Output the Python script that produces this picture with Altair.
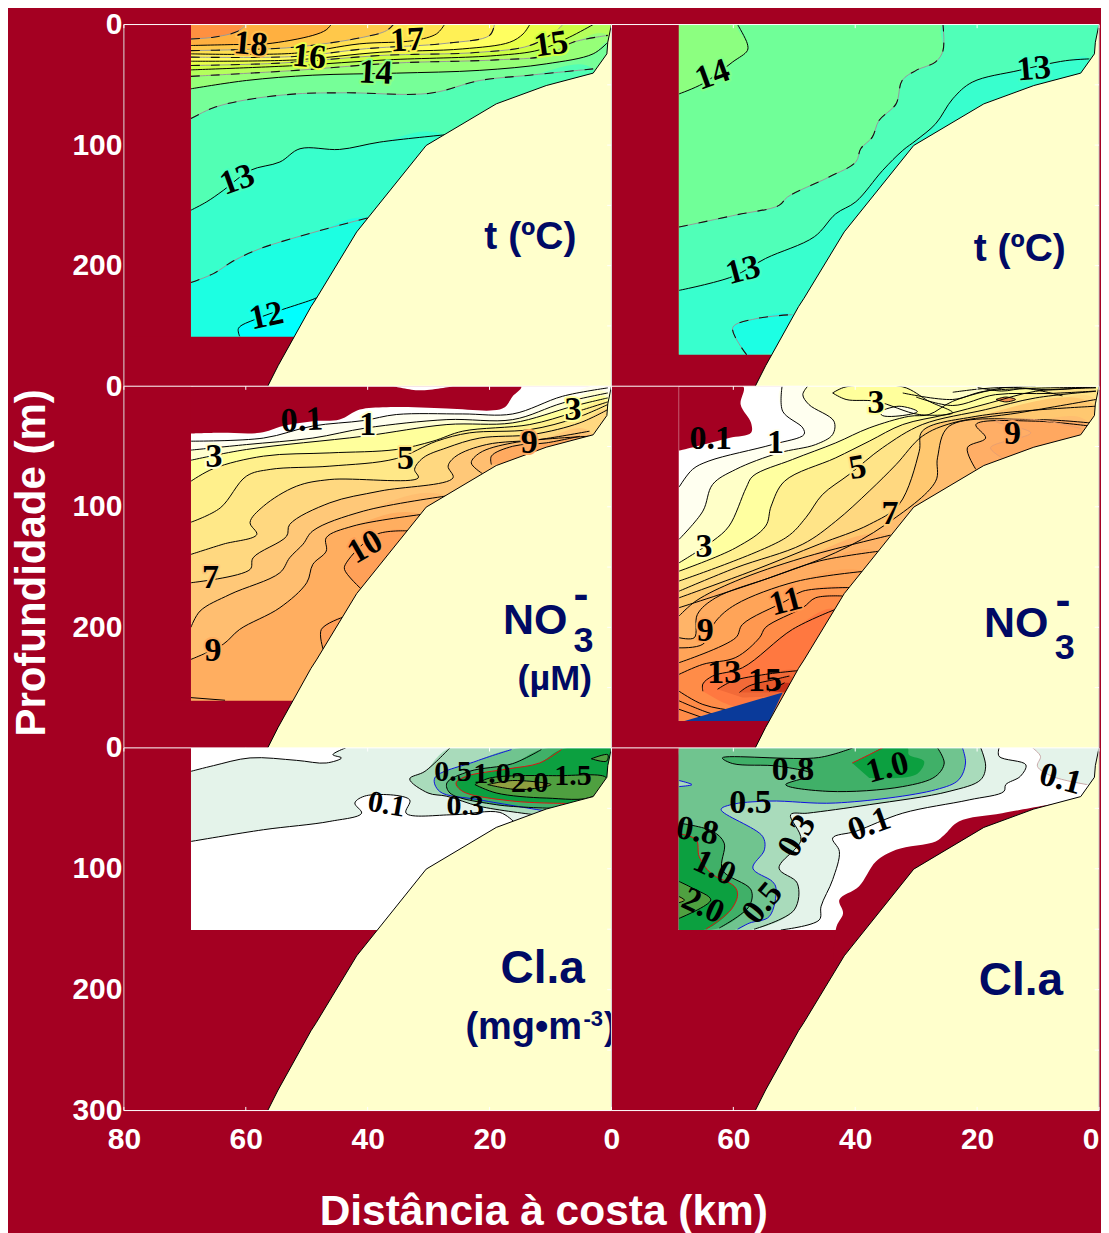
import altair as alt

BG = "#A40022"
CREAM = "#FFFFCC"
NAVY = "#000A64"
PALE, G3, G5, G8, G10, G15, G20 = "#E4F3EA", "#A9DBBB", "#70C48F", "#40B068", "#0CA040", "#4FA040", "#8FA040"

KM_TICKS = [80, 60, 40, 20, 0]
DEPTH_TICKS = [0, 100, 200, 300]
TERRAIN = [(0, 0), (0.6, 14.7), (0.75, 24.3), (3, 40.3), (10.7, 50.6), (18.9, 65.8), (30.4, 100.3),
           (41.8, 172), (48.4, 227), (49.3, 234), (54.7, 283), (56.4, 300)]

# contour tuple: fill, line style, points, extra fill-only points
T_LEFT = [
    ("#FFB040", "dash", [(69, 12), (65.3, 10.5), (61.5, 6), (59.9, 0)], None),
    ("#FFC84A", "k", [(69, 17.4), (62, 16.6), (56.6, 16), (49, 9), (46.8, 4.4), (46, 0)], None),
    ("#FFE050", "dash", [(69, 21.6), (62.6, 21), (52, 18.8), (40.7, 10.5), (36.9, 5), (35.8, 0)], None),
    ("#FFF055", "k", [(69, 24.3), (52, 23.8), (41.3, 16), (32.5, 13.3), (28.7, 7.7), (27.4, 0)], None),
    ("#FFFF60", "dash", [(69, 27), (52, 26.5), (40.2, 20), (27, 15.5), (20, 9), (19.2, 0)], None),
    ("#E8FF48", "k", [(69, 30.4), (51.7, 29.3), (38, 23), (24.4, 20.2), (16.7, 14.7), (14.5, 7.8), (13.4, 0)], None),
    ("#CCFF44", "dash", [(69, 34), (54.4, 32), (38, 25.7), (21.6, 23), (13.4, 17.4), (9, 5), (8, 0)], None),
    ("#B4FF5C", "k", [(69, 37.6), (51.7, 34), (36.9, 29.3), (18.9, 25.7), (11.8, 21), (6.9, 10.5), (3, 0)], None),
    ("#96FF78", "dash", [(69, 43), (51.7, 38), (35.8, 32), (18.9, 29.3), (10.7, 25.7), (6.3, 14.7), (0.6, 9)], None),
    ("#76FF98", "k", [(69, 53.3), (59.9, 46.4), (49, 42), (35.3, 40.3), (21.6, 38), (10.7, 32.6), (3, 24.3), (0.6, 14.7)], None),
    ("#52FFB4", "dash", [(69, 78), (65.3, 69), (59.9, 62.4), (51.7, 57.5), (43.5, 56.6), (29.8, 57), (21.6, 46.4), (13.4, 42), (3, 36.8)], None),
    ("#38FFCC", "k", [(69, 154), (66.4, 147), (63.7, 137.6), (59.3, 121), (54.4, 114), (51.1, 103), (44.6, 103.6), (38, 97.5), (27.4, 91.5)], None),
    ("#1CFFE2", "dash", [(69, 214), (65.3, 206.6), (62, 196), (57.7, 186), (47.9, 171), (39.7, 160)], None),
    ("#00FFFF", "k", [(61, 258.6), (61.2, 252), (58.2, 244), (49, 228), (48.1, 226)], [(46, 262)]),
]
T_RIGHT = [
    ("#70FF98", "k", [(68.9, 57.5), (65, 49), (60.1, 31), (57.7, 21.6), (57.7, 16), (59.3, 0)], None),
    ("#50FFB8", "dash", [(68.9, 168), (59.6, 158), (52.5, 150), (51.1, 143), (44.3, 126.5), (39.9, 114), (39.1, 103), (37.2, 93.4),
                         (36.1, 79.6), (33.3, 65.8), (32.3, 46.4), (30, 38), (26.8, 31), (25.6, 21.6), (25.6, 0)], None),
    ("#38FFCE", "k", [(68.9, 220.5), (60.1, 209), (54.7, 194), (46.7, 176), (43.2, 157), (39.9, 147), (35.5, 121), (32.2, 104.4), (30, 96),
                      (26.8, 82.3), (24, 61.6), (20.8, 47.8), (13.1, 38), (5.5, 30), (1.6, 28.5)], None),
    ("#1CFFE4", "dash", [(57.8, 274), (60.1, 251.4), (56.3, 244), (50.3, 240.6)], [(46, 270)]),
]
N_LEFT = [
    ("#FFFFF0", "k", [(69, 45.6), (57.1, 43), (49, 33), (40.7, 28.5), (35.3, 23.5), (24.4, 23), (16.2, 23), (8, 8.3), (0.6, 1.4)], None),
    ("#FFFFD0", "k", [(69, 53), (59.9, 48.4), (49, 43), (40.2, 34.6), (27, 27.7), (16.2, 27.7), (8, 13.9), (0.6, 5.6)], None),
    ("#FFFF9C", "k", [(69, 61.4), (59.9, 52.5), (40.7, 41.5), (27, 31.8), (16.2, 30.4), (6.3, 16.6), (0.6, 9.7)], None),
    ("#FFF08C", "k", [(69, 78.8), (65.3, 68.3), (57.1, 58), (46.2, 55.3), (35.3, 52.5), (29.3, 45.6), (24.4, 37.3), (13.4, 31.8), (6.3, 22), (0.6, 13)], None),
    ("#FFE888", "k", [(69, 112.8), (64.2, 101), (59.9, 74.6), (56, 69), (46.2, 66.3), (35.3, 60), (28.7, 45.6), (23.3, 38.7), (13.4, 36), (5.8, 26.3), (0.6, 15.2)], None),
    ("#FFD880", "k", [(69, 139.5), (63.7, 131), (58.2, 123), (59.3, 113), (57.1, 99.5), (51.7, 83), (46.2, 77.4), (31.7, 76), (32.3, 69),
                      (30.9, 59.4), (27, 51), (21.6, 43), (12.9, 40), (5.2, 30.4), (0.6, 19.4)], None),
    ("#FFC878", "k", [(69, 163), (59.3, 152), (58.8, 142.3), (53.3, 124.4), (52.8, 114.7), (46.2, 96.7), (38, 87), (26, 76), (26.8, 66.3),
                      (25.5, 58), (20.5, 48.4), (11.8, 44.2), (3.6, 37.3)], None),
    ("#FFBE70", "k", [(69, 200), (67.5, 186.5), (62.6, 172.7), (54.4, 154.7), (52.8, 142.3), (50.6, 131), (49, 120), (40.7, 103.6), (27, 91)], None),
    ("#FFBE70", "k", [(21.2, 72.4), (23, 63.6), (21.6, 55.3), (16.2, 47), (3.6, 41.5)], [(10, 60)]),
    ("#FFAE60", "k", [(69, 226.6), (63.7, 214), (61, 201.7), (54.4, 183.7), (50, 163), (49, 147.8), (46.8, 136.8), (46.8, 125.7), (42.4, 116), (31.2, 106.4)], None),
    ("#FFAA60", "k", [(19.7, 65), (19.7, 58), (16.2, 49.8), (10.7, 47), (5.2, 41.5)], [(10, 60)]),
    ("#FFA058", "k", [(41, 168.5), (43.8, 152), (43.5, 146.5), (38.6, 123), (33.4, 120)], [(30, 140)]),
    ("#FFA058", "k", [(47.3, 218.3), (47.6, 201.7), (44, 191.5)], [(40, 210)]),
    (None, "k", [(69, 258.3), (63.4, 260.5)], None),
]
N_LEFT_MASK = [[(69, 39.3), (64.2, 38.7), (57.7, 38.7), (53.9, 33), (49, 29), (44.6, 27.7), (41.3, 19.4), (36.9, 17.4), (27, 18.5),
                (19.4, 20), (17.5, 17.4), (16.2, 8.3), (14.8, 0), (69, 0)]]
N_LEFT_SLIVER = [(35.8, 0), (31.5, 3.4), (26, 0)]
N_RIGHT = [
    ("#FFFFF0", "k", [(68.9, 83.7), (66.7, 69), (64, 62), (53.6, 48.4), (48.4, 40), (48.6, 34.6), (51.9, 20.8), (52, 0)], None),
    ("#FFFFC8", "k", [(68.9, 127), (65, 103.6), (63.4, 81.5), (59.6, 69), (52.5, 55.3), (46.5, 48.4), (43.7, 40), (43.5, 29), (47.6, 15.2), (48.6, 7), (47.8, 0)], None),
    ("#FFFFA0", "k", [(68.9, 146.5), (63.4, 128.5), (60.7, 116), (57.9, 84.3), (56.8, 74.6), (50.3, 60.8), (43.2, 47), (37.7, 34.6), (31.2, 25),
                      (27.9, 23.5), (24, 12.5), (15.8, 1.4), (10.4, 0)], None),
    ("#FFF090", "k", [(68.9, 153.4), (59.6, 134), (54.7, 116), (53.8, 99.5), (51.6, 78.8), (43.2, 59.4), (37.7, 45.6), (32.2, 31.8), (25.1, 23.5),
                      (18, 14), (10.4, 4.2), (0.5, 1.4)], None),
    ("#FFE488", "k", [(68.9, 161.6), (51.4, 125.7), (48.1, 109), (45.4, 90), (41, 73.2), (35.5, 51), (29, 31.8), (18.6, 19.4), (10.4, 9.7), (0.5, 4.2)], None),
    ("#FFD880", "k", [(68.9, 170), (59.6, 150.6), (48.6, 131), (43.2, 112), (37.7, 87), (33.3, 65), (29, 41.5), (24, 30.4), (13.1, 22), (0.5, 11)], None),
    ("#FFC870", "k", [(68.9, 175.5), (56.8, 153), (45.9, 131), (37.7, 114.7), (32.8, 98), (29.5, 54), (29, 37.3), (20.2, 25), (0.5, 16.6)], None),
    ("#FFBE70", "k", [(68.9, 183.7), (54.1, 159), (43.2, 138), (35, 114.7), (26.8, 78.8), (26.5, 59.4), (24.6, 33.2), (10.4, 27.7), (1.6, 30.4)], None),
    ("#FFAE66", "k", [(20.2, 69), (21.6, 51), (18.6, 43), (20.2, 31.8), (10.4, 29), (1.6, 33)], [(0, 60), (10, 60)]),
    ("#FFA860", "#E8A070", [(15.9, 59.4), (17.8, 51), (11.2, 38.7), (17, 29), (10.4, 27.7), (3, 35)], [(3, 55), (12, 55)]),
    ("#FFFF9C", "k", [(43.7, 5.6), (41.5, 0.5), (32.2, 0.5), (27.9, 12.5), (24, 22), (29.5, 23.5), (36.6, 12.5), (41.5, 11), (43.7, 5.6)], []),
    ("#FFFFE8", "k", [(36.1, 21), (32.8, 16.6), (29.8, 21), (31.2, 23.5), (35.5, 24.4), (36.1, 21)], []),
    (None, "k", [(32.2, 5.6), (24, 11), (18.6, 4), (0.5, 1)], None),
    (None, "k", [(30, 9), (24, 16), (17, 7), (8, 6), (0.5, 4)], None),
    (None, "k", [(24, 5), (19, 2), (14, 1), (8, 3), (2, 1)], None),
    (None, "k", [(20, 1), (16, 4), (12, 2), (6, 8)], None),
    ("#F09050", "k", [(16.9, 11), (15.3, 9), (13.7, 11), (15.3, 13), (16.9, 11)], []),
    ("#FFB468", "k", [(68.9, 190.6), (66.1, 178), (59.6, 161.6), (48.6, 142.3), (34.2, 123.5)], None),
    ("#FFAC60", "k", [(68.9, 208.6), (66.4, 208.6), (65.9, 189.3), (62.9, 175.5), (54.1, 159), (45.9, 145), (36, 136.8)], None),
    ("#FFA458", "k", [(68.9, 217), (65, 214), (62.9, 195), (59.6, 181), (49.7, 162), (38.3, 153.4)], None),
    ("#FF9850", "k", [(68.9, 229.3), (59.6, 208.6), (58.5, 197.6), (51.4, 178.2), (48.6, 170), (40.7, 167)], None),
    ("#FF8C48", "k", [(68.9, 239), (65, 230.7), (59.6, 225), (55.7, 208.6), (54.7, 200), (48.6, 183.7), (46.5, 175.5), (42.1, 174)], None),
    ("#FF7840", "k", [(65, 253), (65, 247), (63.4, 240.4), (58.5, 233.5), (50.3, 201.7), (43.2, 185)], [(40, 240), (54.1, 272), (62.3, 261)]),
    ("#F26A38", "k", [(62.6, 251.4), (60.1, 244.5), (54.7, 239), (49.5, 236)], [(46, 256), (51.9, 257), (58.5, 258.3)]),
    ("#E85A2C", "k", [(59, 254), (57.4, 248.6), (53, 243), (50.8, 240.4)], [(47, 256), (51.6, 254)]),
    ("#C83018", "k", [(54.1, 253), (51.6, 246)], [(48, 250), (51, 254)]),
    (None, "k", [(68.9, 253), (65, 264), (59, 270), (54, 274)], None),
    (None, "k", [(68.9, 261), (64, 271), (60, 276)], None),
    (None, "k", [(68.9, 268), (65, 275)], None),
]
N_RIGHT_MASK = [[(68.9, 53.4), (66.1, 50), (60.7, 43), (57.1, 38.7), (57.1, 30.4), (58.8, 15.2), (58.4, 0), (68.9, 0)]]
N_RIGHT_BLUE = [(68, 277.7), (51.9, 254), (54.1, 277.7)]
C_LEFT = [
    (PALE, "k", [(69, 19.4), (65.3, 14.7), (59.3, 8.3), (51.7, 10.3), (46.8, 12.5), (44.3, 8.3), (45.7, 5.6), (43.6, 0)], None),
    ("#FFFFFF", "k", [(69, 77.4), (57.1, 67.7), (46.2, 60.8), (41, 54), (42.1, 45.6), (40.2, 39.5), (33.1, 43), (33.7, 54), (26, 55.3), (18.3, 53.4), (15.9, 61.6)], None),
    (G3, "k", [(12.6, 55.3), (21.6, 48.4), (27, 40), (30.1, 37.3), (33.1, 25.7), (30.6, 19.4), (26.5, 0)], [(0, 0), (8, 60)]),
    (G5, "#1010E0", [(10.4, 52.5), (21.6, 43), (28.2, 36), (29, 25), (22.2, 11), (16.4, 1.4)], [(0, 0), (5, 50)]),
    (G8, "k", [(9, 50), (18.9, 47), (26.5, 37.3), (27, 29), (23.3, 19.4), (16.2, 13), (11.5, 1.4)], [(0, 0), (4, 48)]),
    (G10, "#E01010", [(6.6, 46), (16.2, 44), (24.4, 36), (25.5, 29), (23.8, 23.5), (17, 17.4), (11.8, 12.5), (8.2, 1.4)], [(0, 0), (2, 45)]),
    (G15, "k", [(22.4, 30.4), (20, 25), (9, 23), (0.8, 25), (3, 40), (10.7, 41.5), (18.9, 37.3), (22.4, 30.4)], []),
    (G20, "k", [(20.3, 30.4), (16.2, 27), (9.9, 30.4), (15, 34.6), (20.3, 30.4)], []),
    (G15, "k", [(3.3, 9), (0.6, 5.6), (0.8, 11), (3.3, 9)], []),
]
C_RIGHT = [
    (PALE, "k", [(16.4, 0), (16.4, 7), (12, 14), (12.9, 23.5), (15.3, 30.4), (15.6, 36), (21.3, 43), (32.2, 54), (39.9, 69), (43.7, 74.6),
                 (42.6, 85.7), (43.7, 109), (45.6, 131), (45.9, 142.3), (52.2, 150.6)], [(68.9, 150.6), (68.9, 0)]),
    (PALE, "#C8A8A8", [(10.9, 0), (9.6, 7), (10.1, 15.2), (7.7, 23.5), (1.9, 30.4)], [(0, 30), (0, 0)]),
    (G3, "k", [(19.4, 0), (18.6, 15.2), (19.4, 26.3), (24.6, 36), (37.7, 47), (47.8, 54), (50.6, 55.3), (48.9, 76), (52.5, 99.5), (49.5, 112),
               (50, 134), (56.6, 150)], [(68.9, 150.6), (68.9, 0)]),
    (G5, "#1010E0", [(22.4, 0), (21.9, 12.5), (23, 26.3), (26.8, 34.6), (43.2, 45.6), (54.1, 44), (60.4, 47), (62, 51), (55.2, 73.2), (54.9, 84.3),
                     (56.8, 99.5), (53.6, 110.5), (53, 116), (54.1, 139.5), (57.4, 145), (59.3, 150)], [(68.9, 150.6), (68.9, 0)]),
    (G3, "#1010E0", [(68.9, 27), (66.8, 30.4), (68.9, 32)], []),
    (G8, "k", [(40.4, 0), (46, 8), (61.8, 8.3), (60.1, 13), (52.5, 15.2), (47, 22), (51.4, 30.4), (44.3, 36), (32.2, 32), (26.8, 23.5), (25.4, 12.5), (26.5, 0)], []),
    (G10, "#E01010", [(40.5, 12.5), (37.7, 5.6), (35.5, 0)], [(31.4, 0), (31.2, 5.6), (28.7, 11), (30, 22), (37.7, 25)]),
    (G8, "k", [(68.9, 62.2), (63.4, 69), (61.5, 78.8), (61.8, 101), (57.1, 117.4), (57.4, 131), (62.3, 149)], [(68.9, 150.6)]),
    (G10, "#E01010", [(68.9, 71), (66.1, 76), (65.6, 90), (63.7, 103.6), (59.8, 114.7), (59.3, 121.6), (60.4, 134), (64.5, 150)], [(68.9, 150.6)]),
    (G15, "k", [(68.9, 110.5), (66.7, 116), (63.7, 125.7), (68.9, 141)], []),
    (G20, "k", [(68.9, 123), (68, 126), (68.9, 128)], []),
]
C_RIGHT_MASK = [[(6.6, 45.6), (15.9, 54), (23, 60.8), (25.4, 72), (26.8, 77.4), (33.3, 84.3), (36.6, 94), (39.4, 114.7), (42.6, 125.7), (42, 136.8),
                 (43.2, 150.6), (40, 300), (0, 100)]]

# label: text, km, depth, angle, halo colour
L_T_LEFT = [("18", 59.2, 16.6, 5, "#FFC050"), ("16", 49.6, 27, 5, "#E8FF48"), ("17", 33.5, 13.3, -3, "#FFF055"), ("14", 38.7, 40.3, 3, "#8CFF80"),
            ("15", 9.9, 16.6, -8, "#CCFF44"), ("13", 61.4, 129, -20, "#46FFC0"), ("12", 56.6, 242, -12, "#0CFFF0")]
L_T_RIGHT = [("14", 63.4, 42, -20, "#80FF88"), ("13", 58.4, 204, -15, "#44FFC4"), ("13", 10.7, 37, -5, "#44FFC4")]
L_N_LEFT = [("0.1", 50.8, 28.5, -3, None), ("1", 40, 32, 0, "#FFFFD0"), ("3", 65.2, 59, 0, "#FFFFD0"), ("5", 33.8, 60, 0, "#FFE888"), ("3", 6.3, 20, 0, "#FFFF9C"),
            ("9", 13.5, 47, 0, "#FFAA60"), ("10", 40.4, 133.5, -30, "#FFA058"), ("7", 65.8, 159, 0, "#FFC878"), ("9", 65.4, 220, 0, "#FFAE60")]
L_N_RIGHT = [("0.1", 63.7, 44, 0, None), ("1", 53.1, 47, 0, "#FFFFF0"), ("3", 36.6, 14, 0, "#FFFF9C"), ("5", 39.6, 67.7, -10, "#FFE488"), ("3", 64.8, 133, 0, "#FFFFC8"),
             ("7", 34.3, 106, 0, "#FFC870"), ("9", 14.2, 40, 0, "#FFA860"), ("11", 51.4, 179, -15, "#FF9850"), ("9", 64.6, 203, 0, "#FFA458"), ("13", 61.5, 238, 0, None),
             ("15", 54.8, 244.5, 0, None)]
L_C_LEFT = [("0.5", 26, 20, 0, None), ("1.0", 19.6, 22, 0, None), ("2.0", 13.4, 29, 0, None), ("1.5", 6.3, 23.5, 0, None), ("0.1", 36.9, 47, 10, None), ("0.3", 24, 48.4, 0, None)]
L_C_RIGHT = [("0.8", 50.2, 18.6, 0, None), ("1.0", 34.7, 16.6, -15, None), ("0.1", 6.3, 26, 15, None), ("0.5", 57.2, 46, 0, None), ("0.3", 49.5, 73, -60, None),
             ("0.1", 37.7, 63.6, -20, None), ("0.8", 65.9, 69, 10, None), ("1.0", 63.1, 99.5, 25, None), ("0.5", 55.2, 128.5, -50, None), ("2.0", 65, 131, 25, None)]

# title pieces: text, km, depth, size
TT_1 = [("t (ºC)", 13.3, 176, 39)]
TT_2 = [("t (ºC)", 13, 186, 39)]
TT_3 = [("NO", 12.5, 195, 43), ("3", 4.6, 211, 36), ("-", 5, 173, 45), ("(µM)", 9.3, 243, 36)]
TT_4 = [("NO", 13.6, 197.6, 43), ("3", 5.6, 217, 36), ("-", 5.9, 178, 45)]
TT_5 = [("Cl.a", 11.3, 183, 46), ("(mg•m", 14.4, 232, 38), ("-3", 3, 224, 22), (")", 0.2, 232, 38)]
TT_6 = [("Cl.a", 12.8, 193, 46)]
Y_TITLE = [("Profundidade (m)", 95.0, 146.6, 42, 270)]
X_TITLE = [("Distância à costa (km)", 11.1, 383.6, 42.5, 0)]


def ring_rows(ring, fill, key):
    return [dict(id=key, seq=i, km=p[0], d=p[1], fill=fill) for i, p in enumerate(ring)]


def polys(contours, base, bottom):
    rows = ring_rows([(69, 0), (0, 0), (0, bottom), (69, bottom)], base, "base")
    lines = []
    for n, (fill, style, pts, extra) in enumerate(contours):
        key = f"c{n:02d}"
        if fill:
            ring = list(pts)
            if extra is None:
                if pts[-1][1] <= 1:
                    ring.append((0, 0))
                ring += [(0, bottom), (pts[0][0], bottom)]
            else:
                ring += extra
            rows += ring_rows(ring, fill, key)
        for i, p in enumerate(pts):
            if style == "dash":
                lines.append(dict(id=key, seq=i, km=p[0], d=p[1], stroke="#999999", dashed=1))
            else:
                lines.append(dict(id=key, seq=i, km=p[0], d=p[1], stroke="#000000" if style == "k" else style, dashed=0))
    return rows, lines


FILL = alt.Fill("fill:N", scale=None)
ORDER = alt.Order("seq:Q")


def panel(contours, base, bottom, labels, titles, masks=None, overlays=None, x_vals=None, y_vals=None,
          bottom_line=False, free_text=None, hgt=362, lab_size=34, flush=False):
    rows, lines = polys(contours, base, bottom)
    axis_kw = dict(labelFont="Liberation Sans", labelFontWeight="bold", labelFontSize=30, labelColor="white", ticks=False,
                   domain=False, grid=False, title=None, labelOverlap=False, labelBound=False, format="d")
    xa = alt.Axis(values=x_vals, labelPadding=14, labelFlush=flush, **axis_kw) if x_vals else None
    ya = alt.Axis(values=y_vals, labelPadding=2, labelFlush=False, **axis_kw) if y_vals else None
    X = alt.X("km:Q", scale=alt.Scale(domain=[80, 0], nice=False, zero=False), axis=xa)
    Y = alt.Y("d:Q", scale=alt.Scale(domain=[300, 0], nice=False, zero=False), axis=ya)

    smooth = dict(interpolate="catmull-rom", clip=True)
    layers = [alt.Chart(alt.Data(values=rows)).mark_line(strokeWidth=0, **smooth).encode(x=X, y=Y, order=ORDER, detail="id:N", fill=FILL)]
    layers.append(alt.Chart(alt.Data(values=lines)).mark_line(strokeWidth=1, **smooth).encode(
        x=X, y=Y, order=ORDER, detail="id:N", stroke=alt.Stroke("stroke:N", scale=None)))
    dashed = [r for r in lines if r["dashed"]]
    if dashed:
        layers.append(alt.Chart(alt.Data(values=dashed)).mark_line(strokeWidth=1.1, color="#111111", strokeDash=[9, 11], **smooth).encode(
            x=X, y=Y, order=ORDER, detail="id:N"))
    # outside of the sampled section
    outside = ring_rows([(80, 0), (69, 0), (69, 300), (80, 300)], BG, "left") + ring_rows([(80, bottom), (0, bottom), (0, 300), (80, 300)], BG, "below")
    layers.append(alt.Chart(alt.Data(values=outside)).mark_line(strokeWidth=0).encode(x=X, y=Y, order=ORDER, detail="id:N", fill=FILL))
    top = []
    for i, (ring, col) in enumerate(masks or []):
        top += ring_rows(ring, col, f"m{i}")
    if top:
        layers.append(alt.Chart(alt.Data(values=top)).mark_line(strokeWidth=0, **smooth).encode(x=X, y=Y, order=ORDER, detail="id:N", fill=FILL))
    flat = ring_rows(TERRAIN + [(0, 300)], CREAM, "terrain")
    for i, (ring, col) in enumerate(overlays or []):
        flat = ring_rows(ring, col, f"o{i}") + flat
    layers.append(alt.Chart(alt.Data(values=flat)).mark_line(strokeWidth=0).encode(x=X, y=Y, order=ORDER, detail="id:N", fill=FILL))
    tl = [dict(km=k, d=v, seq=i) for i, (k, v) in enumerate(TERRAIN)]
    layers.append(alt.Chart(alt.Data(values=tl)).mark_line(strokeWidth=1, color="black").encode(x=X, y=Y, order=ORDER))

    # frame and small ticks
    rules = [dict(km=80, km2=0, d=0, d2=0, c="#FFFFFF"), dict(km=80, km2=80, d=0, d2=300, c="#DDDDDD"),
             dict(km=0, km2=0, d=0, d2=300, c="#CCCCCC")]
    if bottom_line:
        rules.append(dict(km=80, km2=0, d=300, d2=300, c="#FFFFFF"))
    for k in KM_TICKS:
        rules.append(dict(km=k, km2=k, d=0, d2=3, c="#FFFFFF"))
        if bottom_line:
            rules.append(dict(km=k, km2=k, d=297, d2=300, c="#FFFFFF"))
    for v in [50, 100, 150, 200, 250]:
        rules.append(dict(km=0.7, km2=0, d=v, d2=v, c="#FFFFFF"))
    layers.append(alt.Chart(alt.Data(values=rules)).mark_rule(strokeWidth=1).encode(
        x=X, x2="km2:Q", y=Y, y2="d2:Q", color=alt.Color("c:N", scale=None)))

    lab = [dict(text=t, km=k, d=v, a=(360 + a) % 360, halo=h) for t, k, v, a, h in labels]
    halo = [r for r in lab if r["halo"]]
    if halo:
        layers.append(alt.Chart(alt.Data(values=halo)).mark_text(
            font="Liberation Serif", fontSize=lab_size, fontWeight="bold", strokeWidth=4, strokeJoin="round").encode(
            x=X, y=Y, text="text:N", angle=alt.Angle("a:Q", scale=None), stroke=alt.Stroke("halo:N", scale=None),
            fill=alt.Fill("halo:N", scale=None)))
    layers.append(alt.Chart(alt.Data(values=lab)).mark_text(
        font="Liberation Serif", fontSize=lab_size, fontWeight="bold", color="black").encode(
        x=X, y=Y, text="text:N", angle=alt.Angle("a:Q", scale=None)))
    rows_t = [dict(text=t, km=k, d=v, size=s) for t, k, v, s in titles]
    layers.append(alt.Chart(alt.Data(values=rows_t)).mark_text(font="Liberation Sans", fontWeight="bold", color=NAVY).encode(
        x=X, y=Y, text="text:N", size=alt.Size("size:Q", scale=None)))
    for t, k, v, s, a in free_text or []:
        layers.append(alt.Chart(alt.Data(values=[dict(text=t, km=k, d=v)])).mark_text(
            font="Liberation Sans", fontWeight="bold", fontSize=s, color="white", angle=a).encode(x=X, y=Y, text="text:N"))
    return alt.layer(*layers).properties(width=488, height=hgt)


p1 = panel(T_LEFT, "#FF9040", 259, L_T_LEFT, TT_1, y_vals=DEPTH_TICKS[:3])
p2 = panel(T_RIGHT, "#8CFF80", 274, L_T_RIGHT, TT_2)
p3 = panel(N_LEFT, "#FFFFFF", 261, L_N_LEFT, TT_3, y_vals=DEPTH_TICKS[:3],
           masks=[(N_LEFT_MASK[0], BG), (N_LEFT_SLIVER, "#FFFFFF")], free_text=Y_TITLE)
p4 = panel(N_RIGHT, "#FFFFFF", 277.7, L_N_RIGHT, TT_4, masks=[(N_RIGHT_MASK[0], BG)], overlays=[(N_RIGHT_BLUE, "#0A3A9A")])
p5 = panel(C_LEFT, "#FFFFFF", 150.6, L_C_LEFT, TT_5, y_vals=DEPTH_TICKS, x_vals=KM_TICKS, bottom_line=True,
           free_text=X_TITLE, hgt=363, lab_size=30)
p6 = panel(C_RIGHT, "#FFFFFF", 150.6, L_C_RIGHT, TT_6, x_vals=KM_TICKS[1:], bottom_line=True,
           masks=[(C_RIGHT_MASK[0], BG)], hgt=363, flush=True)

chart = alt.concat(p1, p2, p3, p4, p5, p6, columns=2, spacing=0, bounds="flush").properties(
    background=BG, padding=dict(left=3, top=1, right=0, bottom=0),
).configure_view(stroke=None)

chart.save("out.html", embed_options={"renderer": "svg", "actions": False})
